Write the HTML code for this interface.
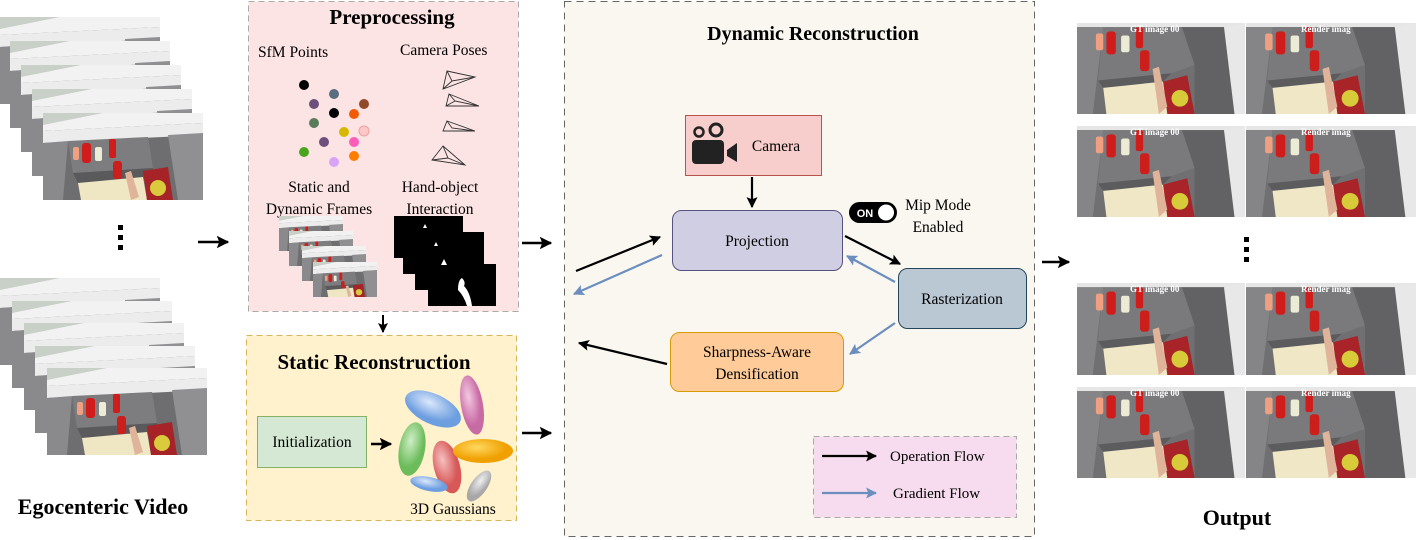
<!DOCTYPE html>
<html><head><meta charset="utf-8"><style>
html,body{margin:0;padding:0;background:#fff;}
svg{display:block;}
text{font-family:"Liberation Serif",serif;fill:#000;}
</style></head><body>
<svg width="1416" height="540" viewBox="0 0 1416 540" xmlns="http://www.w3.org/2000/svg">
<defs>
<symbol id="ph" viewBox="0 0 160 87" preserveAspectRatio="none">
  <rect width="160" height="87" fill="#707073"/>
  <polygon points="0,0 160,0 160,4 0,4" fill="#e6e6e6"/>
  <polygon points="0,4 25,4 15,87 0,87" fill="#858588"/>
  <polygon points="25,4 100,4 112,40 90,48 20,55" fill="#7a7a7d"/>
  <polygon points="20,55 90,48 80,58 25,62" fill="#5c5c5f"/>
  <polygon points="25,62 82,56 88,87 28,87" fill="#efe7c6"/>
  <polygon points="82,56 105,50 112,87 86,87" fill="#a82428"/>
  <circle cx="98" cy="72" r="8" fill="#d8cb3a"/>
  <polygon points="100,4 140,4 150,87 112,87 112,40" fill="#626265"/>
  <polygon points="140,4 160,0 160,87 150,87" fill="#e8e8e8"/>
  <rect x="18" y="10" width="7" height="16" rx="2" fill="#f0a080"/>
  <rect x="28" y="8" width="9" height="22" rx="3" fill="#d01c1a"/>
  <rect x="42" y="12" width="8" height="16" rx="2" fill="#ecebd6"/>
  <rect x="56" y="4" width="7" height="20" rx="2" fill="#d01c1a"/>
  <rect x="60" y="26" width="9" height="20" rx="3" fill="#cc1e1a"/>
  <polygon points="72,44 78,42 86,80 78,87" fill="#e0b49a"/>
</symbol>
<symbol id="ph2" viewBox="0 0 160 87" preserveAspectRatio="none">
  <rect width="160" height="87" fill="#6e6e70"/>
  <polygon points="0,0 160,0 160,10 0,18" fill="#f2f2f2"/>
  <polygon points="0,0 60,0 0,12" fill="#c8d0c8"/>
  <polygon points="0,18 160,10 160,22 0,30" fill="#ececec"/>
  <polygon points="0,30 25,28 20,87 0,87" fill="#8a8a8c"/>
  <polygon points="25,28 105,24 110,55 30,60" fill="#7d7d80"/>
  <polygon points="30,60 110,55 112,66 35,70" fill="#5a5a5c"/>
  <polygon points="35,70 100,64 104,87 38,87" fill="#efe6c4"/>
  <polygon points="100,58 125,54 130,87 104,87" fill="#a62428"/>
  <circle cx="115" cy="75" r="8" fill="#d9cb3c"/>
  <polygon points="125,22 160,20 160,87 135,87" fill="#909092"/>
  <rect x="30" y="34" width="6" height="13" rx="2" fill="#f0a080"/>
  <rect x="39" y="30" width="9" height="20" rx="3" fill="#d01c1a"/>
  <rect x="52" y="34" width="7" height="14" rx="2" fill="#ecebd6"/>
  <rect x="66" y="26" width="7" height="19" rx="2" fill="#d01c1a"/>
  <rect x="70" y="48" width="9" height="18" rx="3" fill="#cc1e1a"/>
  <polygon points="82,60 88,58 96,84 88,87" fill="#e0b49a"/>
</symbol>
<marker id="ab" viewBox="0 0 10 10" refX="9" refY="5" markerWidth="5" markerHeight="5" orient="auto"><path d="M0,0 L10,5 L0,10 L2,5 Z" fill="#000"/></marker>
<marker id="au" viewBox="0 0 10 10" refX="9" refY="5" markerWidth="5" markerHeight="5" orient="auto"><path d="M0,0 L10,5 L0,10 L2,5 Z" fill="#6c8ebf"/></marker>
<radialGradient id="gb" cx="40%" cy="35%"><stop offset="0" stop-color="#dbe8fb"/><stop offset="1" stop-color="#6d9ee0"/></radialGradient>
<radialGradient id="gp" cx="40%" cy="35%"><stop offset="0" stop-color="#f2c8e0"/><stop offset="1" stop-color="#c86aa4"/></radialGradient>
<radialGradient id="gg" cx="40%" cy="35%"><stop offset="0" stop-color="#cfeec4"/><stop offset="1" stop-color="#6cbc5c"/></radialGradient>
<radialGradient id="gr" cx="40%" cy="35%"><stop offset="0" stop-color="#f6c0c0"/><stop offset="1" stop-color="#d85858"/></radialGradient>
<radialGradient id="go" cx="40%" cy="35%"><stop offset="0" stop-color="#ffd860"/><stop offset="1" stop-color="#f0a000"/></radialGradient>
<radialGradient id="gy" cx="40%" cy="35%"><stop offset="0" stop-color="#f0f0f0"/><stop offset="1" stop-color="#a8a8a8"/></radialGradient>
</defs>

<!-- Left video stacks -->
<use href="#ph2" x="0" y="17" width="160" height="87"/>
<use href="#ph2" x="10" y="41" width="160" height="87"/>
<use href="#ph2" x="21" y="65" width="160" height="87"/>
<use href="#ph2" x="32" y="89" width="160" height="87"/>
<use href="#ph2" x="43" y="113" width="160" height="87"/>
<rect x="118" y="225" width="5" height="5" fill="#000"/><rect x="118" y="235" width="5" height="5" fill="#000"/><rect x="118" y="245" width="5" height="5" fill="#000"/>
<use href="#ph2" x="0" y="278" width="160" height="87"/>
<use href="#ph2" x="12" y="301" width="160" height="87"/>
<use href="#ph2" x="24" y="323" width="160" height="87"/>
<use href="#ph2" x="35" y="346" width="160" height="87"/>
<use href="#ph2" x="47" y="368" width="160" height="87"/>
<text x="103" y="514" font-size="22" font-weight="bold" text-anchor="middle">Egocenteric Video</text>
<line x1="198" y1="242" x2="228" y2="242" stroke="#000" stroke-width="2.5" marker-end="url(#ab)"/>

<!-- Preprocessing -->
<rect x="248.5" y="1.5" width="270" height="310" fill="#fce4e4" stroke="#aaa" stroke-dasharray="6,4"/>
<text x="392" y="24" font-size="21" font-weight="bold" text-anchor="middle">Preprocessing</text>
<text x="258" y="57" font-size="15.5">SfM Points</text>
<text x="400" y="55" font-size="15.5">Camera Poses</text>
<g>
<circle cx="304" cy="85" r="5" fill="#000"/><circle cx="334" cy="94" r="5" fill="#5a6d80"/>
<circle cx="314" cy="104" r="5" fill="#6d4f7c"/><circle cx="364" cy="104" r="5" fill="#94482a"/>
<circle cx="334" cy="113" r="5" fill="#000"/><circle cx="354" cy="114" r="5" fill="#f25a08"/>
<circle cx="314" cy="123" r="5" fill="#5b7a5a"/><circle cx="344" cy="132" r="5" fill="#d6b800"/>
<circle cx="364" cy="131" r="5" fill="#ffc8c8" stroke="#f0a0a0"/><circle cx="324" cy="142" r="5" fill="#6d4f7c"/>
<circle cx="354" cy="142" r="5" fill="#ff5cb8"/><circle cx="304" cy="152" r="5" fill="#4aa51c"/>
<circle cx="334" cy="162" r="5" fill="#d8a4f6"/><circle cx="354" cy="156" r="5" fill="#ff7d00"/>
</g>
<g fill="none" stroke="#333" stroke-width="0.9">
<path d="M447,71 L475,77 L443,89 Z M447,71 L452,81 L475,77 M452,81 L443,89"/>
<path d="M449,94 L479,106 L446,106 Z M449,94 L455,101 L479,106 M455,101 L446,106"/>
<path d="M447,121 L475,131 L443,131 Z M447,121 L452,128 L475,131"/>
<path d="M443,146 L465,165 L432,160 Z M443,146 L448,158 L465,165 M448,158 L432,160"/>
</g>
<text x="319" y="192" font-size="15.5" text-anchor="middle">Static and</text>
<text x="319" y="214" font-size="15.5" text-anchor="middle">Dynamic Frames</text>
<text x="440" y="192" font-size="15.5" text-anchor="middle">Hand-object</text>
<text x="440" y="214" font-size="15.5" text-anchor="middle">Interaction</text>
<use href="#ph2" x="279" y="216" width="64" height="35"/>
<use href="#ph2" x="289" y="231" width="64" height="35"/>
<use href="#ph2" x="302" y="246" width="64" height="35"/>
<use href="#ph2" x="313" y="262" width="64" height="35"/>
<rect x="394" y="216" width="69" height="42" fill="#000"/>
<rect x="403" y="232" width="81" height="42" fill="#000"/>
<rect x="415" y="248" width="69" height="42" fill="#000"/>
<rect x="428" y="264" width="68" height="42" fill="#000"/>
<path d="M423,228 l2,-4 l2,4 Z" fill="#fff"/><path d="M434,246 l2,-4 l2,4Z" fill="#fff"/><path d="M441,265 l3,-6 l3,6Z" fill="#fff"/>
<path d="M458,290 q0,-10 4,-12 q4,4 2,8 q6,6 8,20 l-5,0 q-3,-10 -9,-16Z" fill="#fff"/>
<line x1="383" y1="315" x2="383" y2="332" stroke="#000" stroke-width="2" marker-end="url(#ab)"/>

<!-- Static Reconstruction -->
<rect x="246.5" y="335.5" width="270" height="185" fill="#fff2cc" stroke="#d6b656" stroke-dasharray="6,4"/>
<text x="374" y="369" font-size="21" font-weight="bold" text-anchor="middle">Static Reconstruction</text>
<rect x="257.5" y="416.5" width="109" height="51" fill="#d5e8d4" stroke="#82b366"/>
<text x="312" y="447" font-size="15.5" text-anchor="middle">Initialization</text>
<line x1="371" y1="444" x2="391" y2="444" stroke="#000" stroke-width="2.5" marker-end="url(#ab)"/>
<ellipse cx="433" cy="409" rx="30" ry="15" transform="rotate(25 433 409)" fill="url(#gb)"/>
<ellipse cx="472" cy="405" rx="11" ry="30" transform="rotate(-10 472 405)" fill="url(#gp)"/>
<ellipse cx="412" cy="449" rx="13" ry="27" transform="rotate(10 412 449)" fill="url(#gg)"/>
<ellipse cx="447" cy="467" rx="13" ry="27" transform="rotate(-15 447 467)" fill="url(#gr)"/>
<ellipse cx="483" cy="451" rx="30" ry="12" fill="url(#go)"/>
<ellipse cx="429" cy="484" rx="19" ry="7" transform="rotate(12 429 484)" fill="url(#gb)"/>
<ellipse cx="479" cy="486" rx="8" ry="18" transform="rotate(35 479 486)" fill="url(#gy)"/>
<text x="453" y="514" font-size="15.5" text-anchor="middle">3D Gaussians</text>

<line x1="522" y1="243" x2="551" y2="243" stroke="#000" stroke-width="2.5" marker-end="url(#ab)"/>
<line x1="522" y1="433" x2="551" y2="433" stroke="#000" stroke-width="2.5" marker-end="url(#ab)"/>

<!-- Dynamic Reconstruction -->
<rect x="564.5" y="1.5" width="470" height="535" fill="#f9f7ef" stroke="#666" stroke-dasharray="7,5"/>
<text x="813" y="40" font-size="20" font-weight="bold" text-anchor="middle">Dynamic Reconstruction</text>
<rect x="685.5" y="115.5" width="136" height="60" fill="#f8cecc" stroke="#b85450"/>
<g fill="#222">
<circle cx="699" cy="132" r="4.5" fill="none" stroke="#222" stroke-width="2.5"/>
<circle cx="716" cy="130" r="6" fill="none" stroke="#222" stroke-width="3"/>
<rect x="692" y="140" width="32" height="24" rx="4"/>
<path d="M727,150 L737,143 L737,162 L727,156 Z"/>
</g>
<text x="776" y="151" font-size="15.5" text-anchor="middle">Camera</text>
<line x1="752" y1="177" x2="752" y2="207" stroke="#000" stroke-width="2.2" marker-end="url(#ab)"/>
<rect x="672.5" y="210.5" width="170" height="60" rx="9" fill="#d0cee2" stroke="#56517e"/>
<text x="757" y="246" font-size="15.5" text-anchor="middle">Projection</text>
<rect x="849" y="202" width="48" height="21" rx="10.5" fill="#000"/>
<text x="865" y="217" font-size="11" font-weight="bold" text-anchor="middle" style="font-family:'Liberation Sans',sans-serif;fill:#fff">ON</text>
<circle cx="886" cy="212.5" r="8" fill="#fff"/>
<text x="938" y="210" font-size="15.5" text-anchor="middle">Mip Mode</text>
<text x="938" y="232" font-size="15.5" text-anchor="middle">Enabled</text>
<rect x="898.5" y="268.5" width="128" height="60" rx="9" fill="#bac8d3" stroke="#23445d"/>
<text x="962" y="304" font-size="15.5" text-anchor="middle">Rasterization</text>
<rect x="670.5" y="332.5" width="173" height="59" rx="9" fill="#ffcc99" stroke="#d79b00"/>
<text x="757" y="357" font-size="15.5" text-anchor="middle">Sharpness-Aware</text>
<text x="757" y="379" font-size="15.5" text-anchor="middle">Densification</text>
<line x1="576" y1="271" x2="660" y2="237" stroke="#000" stroke-width="2.2" marker-end="url(#ab)"/>
<line x1="662" y1="255" x2="574" y2="294" stroke="#6c8ebf" stroke-width="2.2" marker-end="url(#au)"/>
<line x1="845" y1="236" x2="900" y2="264" stroke="#000" stroke-width="2.2" marker-end="url(#ab)"/>
<line x1="895" y1="282" x2="847" y2="256" stroke="#6c8ebf" stroke-width="2.2" marker-end="url(#au)"/>
<line x1="895" y1="323" x2="850" y2="354" stroke="#6c8ebf" stroke-width="2.2" marker-end="url(#au)"/>
<line x1="667" y1="364" x2="579" y2="343" stroke="#000" stroke-width="2.2" marker-end="url(#ab)"/>
<rect x="813.5" y="436.5" width="203" height="81" fill="#f6dcee" stroke="#aaa" stroke-dasharray="6,4"/>
<line x1="822" y1="456" x2="876" y2="456" stroke="#000" stroke-width="2.2" marker-end="url(#ab)"/>
<text x="890" y="461" font-size="15">Operation Flow</text>
<line x1="822" y1="493" x2="876" y2="493" stroke="#6c8ebf" stroke-width="2.2" marker-end="url(#au)"/>
<text x="893" y="498" font-size="15">Gradient Flow</text>

<line x1="1042" y1="262" x2="1069" y2="262" stroke="#000" stroke-width="2.5" marker-end="url(#ab)"/>

<!-- Output -->
<g>
<use href="#ph" x="1077" y="23" width="168" height="91"/><use href="#ph" x="1246" y="23" width="170" height="91"/>
<use href="#ph" x="1077" y="126" width="168" height="91"/><use href="#ph" x="1246" y="126" width="170" height="91"/>
<use href="#ph" x="1077" y="283" width="168" height="92"/><use href="#ph" x="1246" y="283" width="170" height="92"/>
<use href="#ph" x="1077" y="387" width="168" height="91"/><use href="#ph" x="1246" y="387" width="170" height="91"/>
</g>
<g font-size="9" font-weight="bold">
<text x="1130" y="32" style="fill:#fff">GT image 00</text><text x="1301" y="32" style="fill:#fff">Render imag</text>
<text x="1130" y="135" style="fill:#fff">GT image 00</text><text x="1301" y="135" style="fill:#fff">Render imag</text>
<text x="1130" y="292" style="fill:#fff">GT image 00</text><text x="1301" y="292" style="fill:#fff">Render imag</text>
<text x="1130" y="396" style="fill:#fff">GT image 00</text><text x="1301" y="396" style="fill:#fff">Render imag</text>
</g>
<rect x="1244" y="237" width="5" height="5" fill="#000"/><rect x="1244" y="247" width="5" height="5" fill="#000"/><rect x="1244" y="257" width="5" height="5" fill="#000"/>
<text x="1237" y="525" font-size="22" font-weight="bold" text-anchor="middle">Output</text>
</svg>
</body></html>
